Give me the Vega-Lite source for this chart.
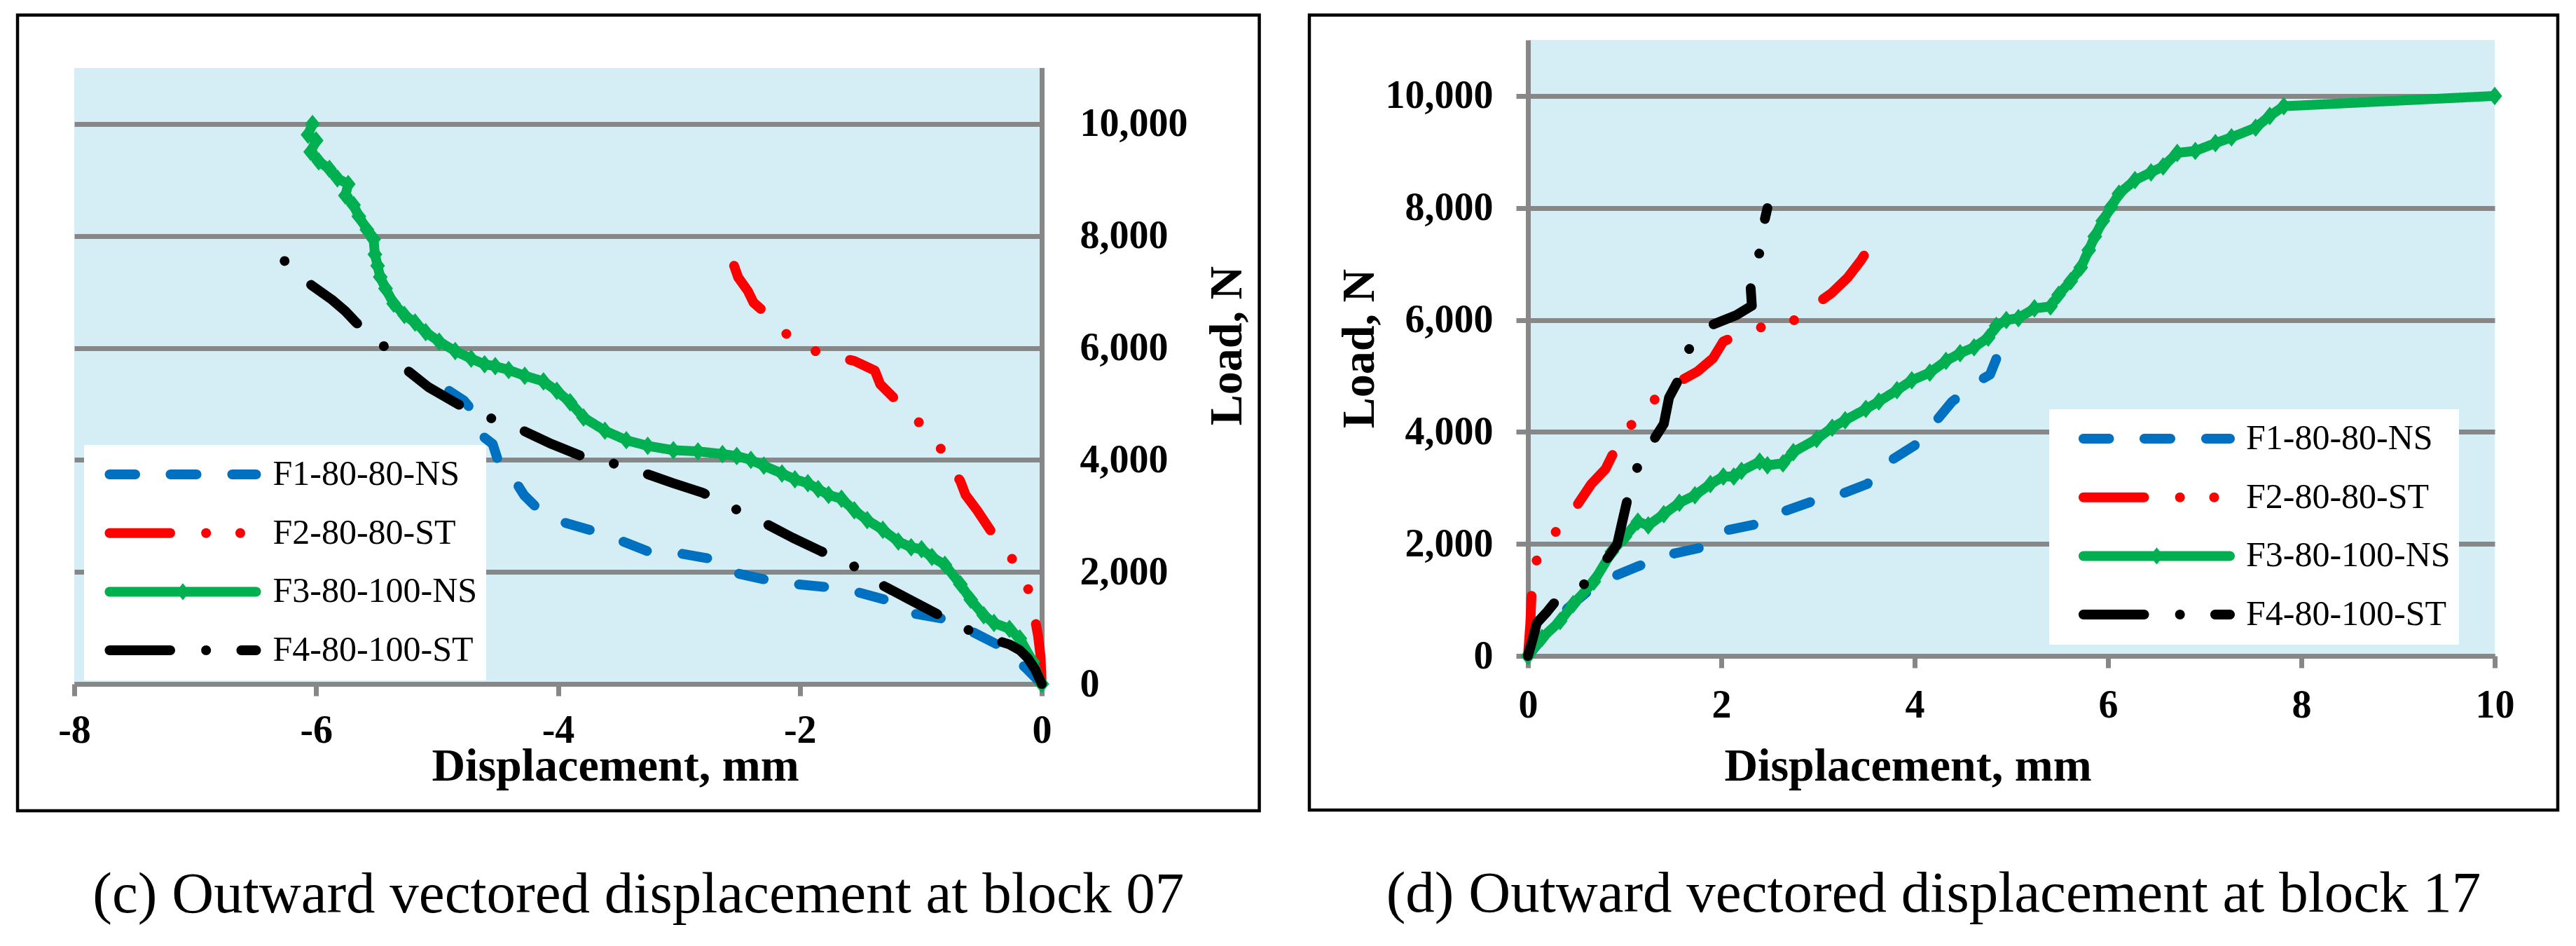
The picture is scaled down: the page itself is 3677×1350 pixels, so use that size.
{
  "$schema": "https://vega.github.io/schema/vega-lite/v6.json",
  "background": "white",
  "padding": {"left": 22, "top": 19, "right": 0, "bottom": 0},
  "spacing": 66,
  "config": {
    "view": {"fill": "#D5EEF5", "stroke": null},
    "axis": {
      "labelFont": "Liberation Serif", "labelFontWeight": "bold", "labelFontSize": 56, "labelColor": "black",
      "titleFont": "Liberation Serif", "titleFontWeight": "bold", "titleFontSize": 66, "titleColor": "black",
      "domainColor": "#878787", "domainWidth": 7, "tickColor": "#878787", "tickWidth": 7,
      "gridColor": "#878787", "gridWidth": 7, "gridOpacity": 1, "labelOverlap": false, "labelFlush": false
    },
    "title": {"font": "Liberation Serif", "fontSize": 83, "fontWeight": "normal", "color": "black"}
  },
  "datasets": {
    "c": [
      {"series": "F1-80-80-NS", "disp": 0, "load": 0},
      {"series": "F1-80-80-NS", "disp": -0.12, "load": 260},
      {"series": "F1-80-80-NS", "disp": -0.25, "load": 520},
      {"series": "F1-80-80-NS", "disp": -0.37, "load": 706},
      {"series": "F1-80-80-NS", "disp": -0.59, "load": 950},
      {"series": "F1-80-80-NS", "disp": -0.8, "load": 1157},
      {"series": "F1-80-80-NS", "disp": -1.07, "load": 1261},
      {"series": "F1-80-80-NS", "disp": -1.27, "load": 1490},
      {"series": "F1-80-80-NS", "disp": -1.53, "load": 1642},
      {"series": "F1-80-80-NS", "disp": -1.76, "load": 1726},
      {"series": "F1-80-80-NS", "disp": -2.03, "load": 1781},
      {"series": "F1-80-80-NS", "disp": -2.26, "load": 1851},
      {"series": "F1-80-80-NS", "disp": -2.52, "load": 1975},
      {"series": "F1-80-80-NS", "disp": -2.73, "load": 2232},
      {"series": "F1-80-80-NS", "disp": -2.99, "load": 2330},
      {"series": "F1-80-80-NS", "disp": -3.24, "load": 2354},
      {"series": "F1-80-80-NS", "disp": -3.48, "load": 2557},
      {"series": "F1-80-80-NS", "disp": -3.7, "load": 2727},
      {"series": "F1-80-80-NS", "disp": -3.97, "load": 2896},
      {"series": "F1-80-80-NS", "disp": -4.17, "load": 3133},
      {"series": "F1-80-80-NS", "disp": -4.28, "load": 3370},
      {"series": "F1-80-80-NS", "disp": -4.33, "load": 3540},
      {"series": "F1-80-80-NS", "disp": -4.49, "load": 3946},
      {"series": "F1-80-80-NS", "disp": -4.54, "load": 4285},
      {"series": "F1-80-80-NS", "disp": -4.62, "load": 4420},
      {"series": "F1-80-80-NS", "disp": -4.7, "load": 4861},
      {"series": "F1-80-80-NS", "disp": -4.78, "load": 5064},
      {"series": "F1-80-80-NS", "disp": -4.9, "load": 5233},
      {"series": "F2-80-80-ST", "disp": 0, "load": 0},
      {"series": "F2-80-80-ST", "disp": -0.01, "load": 500},
      {"series": "F2-80-80-ST", "disp": -0.03, "load": 850},
      {"series": "F2-80-80-ST", "disp": -0.05, "load": 1090},
      {"series": "F2-80-80-ST", "disp": -0.113, "load": 1698},
      {"series": "F2-80-80-ST", "disp": -0.245, "load": 2232},
      {"series": "F2-80-80-ST", "disp": -0.416, "load": 2717},
      {"series": "F2-80-80-ST", "disp": -0.534, "load": 3099},
      {"series": "F2-80-80-ST", "disp": -0.63, "load": 3376},
      {"series": "F2-80-80-ST", "disp": -0.673, "load": 3619},
      {"series": "F2-80-80-ST", "disp": -0.812, "load": 4139},
      {"series": "F2-80-80-ST", "disp": -0.994, "load": 4625},
      {"series": "F2-80-80-ST", "disp": -1.207, "load": 5075},
      {"series": "F2-80-80-ST", "disp": -1.336, "load": 5353},
      {"series": "F2-80-80-ST", "disp": -1.38, "load": 5595},
      {"series": "F2-80-80-ST", "disp": -1.55, "load": 5769},
      {"series": "F2-80-80-ST", "disp": -1.823, "load": 5894},
      {"series": "F2-80-80-ST", "disp": -2.06, "load": 6136},
      {"series": "F2-80-80-ST", "disp": -2.255, "load": 6566},
      {"series": "F2-80-80-ST", "disp": -2.383, "load": 6809},
      {"series": "F2-80-80-ST", "disp": -2.43, "load": 7017},
      {"series": "F2-80-80-ST", "disp": -2.51, "load": 7260},
      {"series": "F2-80-80-ST", "disp": -2.544, "load": 7468},
      {"series": "F3-80-100-NS", "disp": 0, "load": 0},
      {"series": "F3-80-100-NS", "disp": -0.074, "load": 394},
      {"series": "F3-80-100-NS", "disp": -0.181, "load": 810},
      {"series": "F3-80-100-NS", "disp": -0.267, "load": 984},
      {"series": "F3-80-100-NS", "disp": -0.395, "load": 1088},
      {"series": "F3-80-100-NS", "disp": -0.48, "load": 1226},
      {"series": "F3-80-100-NS", "disp": -0.587, "load": 1504},
      {"series": "F3-80-100-NS", "disp": -0.673, "load": 1781},
      {"series": "F3-80-100-NS", "disp": -0.801, "load": 2128},
      {"series": "F3-80-100-NS", "disp": -0.908, "load": 2267},
      {"series": "F3-80-100-NS", "disp": -0.994, "load": 2405},
      {"series": "F3-80-100-NS", "disp": -1.08, "load": 2440},
      {"series": "F3-80-100-NS", "disp": -1.186, "load": 2544},
      {"series": "F3-80-100-NS", "disp": -1.314, "load": 2752},
      {"series": "F3-80-100-NS", "disp": -1.443, "load": 2926},
      {"series": "F3-80-100-NS", "disp": -1.55, "load": 3099},
      {"series": "F3-80-100-NS", "disp": -1.656, "load": 3307},
      {"series": "F3-80-100-NS", "disp": -1.763, "load": 3376},
      {"series": "F3-80-100-NS", "disp": -1.849, "load": 3480},
      {"series": "F3-80-100-NS", "disp": -1.934, "load": 3584},
      {"series": "F3-80-100-NS", "disp": -2.041, "load": 3654},
      {"series": "F3-80-100-NS", "disp": -2.148, "load": 3758},
      {"series": "F3-80-100-NS", "disp": -2.298, "load": 3897},
      {"series": "F3-80-100-NS", "disp": -2.405, "load": 4000},
      {"series": "F3-80-100-NS", "disp": -2.522, "load": 4070},
      {"series": "F3-80-100-NS", "disp": -2.64, "load": 4105},
      {"series": "F3-80-100-NS", "disp": -2.843, "load": 4153},
      {"series": "F3-80-100-NS", "disp": -3.046, "load": 4174},
      {"series": "F3-80-100-NS", "disp": -3.258, "load": 4251},
      {"series": "F3-80-100-NS", "disp": -3.435, "load": 4353},
      {"series": "F3-80-100-NS", "disp": -3.612, "load": 4522},
      {"series": "F3-80-100-NS", "disp": -3.789, "load": 4759},
      {"series": "F3-80-100-NS", "disp": -3.9, "load": 5030},
      {"series": "F3-80-100-NS", "disp": -4.01, "load": 5233},
      {"series": "F3-80-100-NS", "disp": -4.12, "load": 5403},
      {"series": "F3-80-100-NS", "disp": -4.275, "load": 5504},
      {"series": "F3-80-100-NS", "disp": -4.408, "load": 5606},
      {"series": "F3-80-100-NS", "disp": -4.519, "load": 5674},
      {"series": "F3-80-100-NS", "disp": -4.607, "load": 5708},
      {"series": "F3-80-100-NS", "disp": -4.718, "load": 5809},
      {"series": "F3-80-100-NS", "disp": -4.85, "load": 5945},
      {"series": "F3-80-100-NS", "disp": -4.983, "load": 6114},
      {"series": "F3-80-100-NS", "disp": -5.094, "load": 6283},
      {"series": "F3-80-100-NS", "disp": -5.182, "load": 6453},
      {"series": "F3-80-100-NS", "disp": -5.27, "load": 6588},
      {"series": "F3-80-100-NS", "disp": -5.359, "load": 6792},
      {"series": "F3-80-100-NS", "disp": -5.426, "load": 7062},
      {"series": "F3-80-100-NS", "disp": -5.47, "load": 7266},
      {"series": "F3-80-100-NS", "disp": -5.492, "load": 7469},
      {"series": "F3-80-100-NS", "disp": -5.514, "load": 7672},
      {"series": "F3-80-100-NS", "disp": -5.525, "load": 7943},
      {"series": "F3-80-100-NS", "disp": -5.58, "load": 8113},
      {"series": "F3-80-100-NS", "disp": -5.647, "load": 8350},
      {"series": "F3-80-100-NS", "disp": -5.691, "load": 8553},
      {"series": "F3-80-100-NS", "disp": -5.758, "load": 8722},
      {"series": "F3-80-100-NS", "disp": -5.735, "load": 8926},
      {"series": "F3-80-100-NS", "disp": -5.824, "load": 9027},
      {"series": "F3-80-100-NS", "disp": -5.89, "load": 9197},
      {"series": "F3-80-100-NS", "disp": -5.979, "load": 9332},
      {"series": "F3-80-100-NS", "disp": -6.045, "load": 9502},
      {"series": "F3-80-100-NS", "disp": -6.0, "load": 9705},
      {"series": "F3-80-100-NS", "disp": -6.067, "load": 9806},
      {"series": "F3-80-100-NS", "disp": -6.03, "load": 10000},
      {"series": "F4-80-100-ST", "disp": 0, "load": 0},
      {"series": "F4-80-100-ST", "disp": -0.053, "load": 256},
      {"series": "F4-80-100-ST", "disp": -0.117, "load": 464},
      {"series": "F4-80-100-ST", "disp": -0.181, "load": 602},
      {"series": "F4-80-100-ST", "disp": -0.267, "load": 706},
      {"series": "F4-80-100-ST", "disp": -0.374, "load": 776},
      {"series": "F4-80-100-ST", "disp": -0.63, "load": 984},
      {"series": "F4-80-100-ST", "disp": -0.876, "load": 1261},
      {"series": "F4-80-100-ST", "disp": -1.122, "load": 1539},
      {"series": "F4-80-100-ST", "disp": -1.346, "load": 1795},
      {"series": "F4-80-100-ST", "disp": -1.571, "load": 2128},
      {"series": "F4-80-100-ST", "disp": -1.827, "load": 2371},
      {"series": "F4-80-100-ST", "disp": -2.063, "load": 2614},
      {"series": "F4-80-100-ST", "disp": -2.308, "load": 2891},
      {"series": "F4-80-100-ST", "disp": -2.544, "load": 3134},
      {"series": "F4-80-100-ST", "disp": -2.8, "load": 3411},
      {"series": "F4-80-100-ST", "disp": -3.046, "load": 3584},
      {"series": "F4-80-100-ST", "disp": -3.302, "load": 3777},
      {"series": "F4-80-100-ST", "disp": -3.557, "load": 3946},
      {"series": "F4-80-100-ST", "disp": -3.822, "load": 4082},
      {"series": "F4-80-100-ST", "disp": -4.054, "load": 4285},
      {"series": "F4-80-100-ST", "disp": -4.32, "load": 4556},
      {"series": "F4-80-100-ST", "disp": -4.572, "load": 4759},
      {"series": "F4-80-100-ST", "disp": -4.828, "load": 4996},
      {"series": "F4-80-100-ST", "disp": -5.072, "load": 5301},
      {"series": "F4-80-100-ST", "disp": -5.27, "load": 5640},
      {"series": "F4-80-100-ST", "disp": -5.452, "load": 6060},
      {"series": "F4-80-100-ST", "disp": -5.669, "load": 6453},
      {"series": "F4-80-100-ST", "disp": -5.758, "load": 6656},
      {"series": "F4-80-100-ST", "disp": -5.868, "load": 6859},
      {"series": "F4-80-100-ST", "disp": -6.067, "load": 7164},
      {"series": "F4-80-100-ST", "disp": -6.27, "load": 7571}
    ],
    "d": [
      {"series": "F1-80-80-NS", "disp": 0, "load": 0},
      {"series": "F1-80-80-NS", "disp": 0.2, "load": 420},
      {"series": "F1-80-80-NS", "disp": 0.413, "load": 856},
      {"series": "F1-80-80-NS", "disp": 0.6, "load": 1124},
      {"series": "F1-80-80-NS", "disp": 0.869, "load": 1406},
      {"series": "F1-80-80-NS", "disp": 1.15, "load": 1607},
      {"series": "F1-80-80-NS", "disp": 1.459, "load": 1808},
      {"series": "F1-80-80-NS", "disp": 1.78, "load": 1929},
      {"series": "F1-80-80-NS", "disp": 2.021, "load": 2231},
      {"series": "F1-80-80-NS", "disp": 2.343, "load": 2345},
      {"series": "F1-80-80-NS", "disp": 2.624, "load": 2566},
      {"series": "F1-80-80-NS", "disp": 2.919, "load": 2747},
      {"series": "F1-80-80-NS", "disp": 3.227, "load": 2881},
      {"series": "F1-80-80-NS", "disp": 3.509, "load": 3069},
      {"series": "F1-80-80-NS", "disp": 3.737, "load": 3471},
      {"series": "F1-80-80-NS", "disp": 4.0, "load": 3760},
      {"series": "F1-80-80-NS", "disp": 4.22, "load": 4192},
      {"series": "F1-80-80-NS", "disp": 4.386, "load": 4539},
      {"series": "F1-80-80-NS", "disp": 4.677, "load": 4921},
      {"series": "F1-80-80-NS", "disp": 4.78, "load": 5025},
      {"series": "F1-80-80-NS", "disp": 4.844, "load": 5303},
      {"series": "F2-80-80-ST", "disp": 0, "load": 0},
      {"series": "F2-80-80-ST", "disp": 0.025, "load": 588},
      {"series": "F2-80-80-ST", "disp": 0.038, "load": 1124},
      {"series": "F2-80-80-ST", "disp": 0.086, "load": 1694},
      {"series": "F2-80-80-ST", "disp": 0.279, "load": 2197},
      {"series": "F2-80-80-ST", "disp": 0.499, "load": 2667},
      {"series": "F2-80-80-ST", "disp": 0.655, "load": 3069},
      {"series": "F2-80-80-ST", "disp": 0.802, "load": 3337},
      {"series": "F2-80-80-ST", "disp": 0.869, "load": 3572},
      {"series": "F2-80-80-ST", "disp": 1.043, "load": 4075},
      {"series": "F2-80-80-ST", "disp": 1.284, "load": 4544},
      {"series": "F2-80-80-ST", "disp": 1.579, "load": 4913},
      {"series": "F2-80-80-ST", "disp": 1.753, "load": 5080},
      {"series": "F2-80-80-ST", "disp": 1.914, "load": 5315},
      {"series": "F2-80-80-ST", "disp": 2.021, "load": 5617},
      {"series": "F2-80-80-ST", "disp": 2.356, "load": 5851},
      {"series": "F2-80-80-ST", "disp": 2.718, "load": 5952},
      {"series": "F2-80-80-ST", "disp": 2.986, "load": 6287},
      {"series": "F2-80-80-ST", "disp": 3.147, "load": 6488},
      {"series": "F2-80-80-ST", "disp": 3.308, "load": 6757},
      {"series": "F2-80-80-ST", "disp": 3.442, "load": 7058},
      {"series": "F2-80-80-ST", "disp": 3.624, "load": 7548},
      {"series": "F3-80-100-NS", "disp": 0, "load": 0},
      {"series": "F3-80-100-NS", "disp": 0.145, "load": 320},
      {"series": "F3-80-100-NS", "disp": 0.333, "load": 622},
      {"series": "F3-80-100-NS", "disp": 0.467, "load": 923},
      {"series": "F3-80-100-NS", "disp": 0.681, "load": 1326},
      {"series": "F3-80-100-NS", "disp": 0.869, "load": 1862},
      {"series": "F3-80-100-NS", "disp": 1.003, "load": 2130},
      {"series": "F3-80-100-NS", "disp": 1.137, "load": 2398},
      {"series": "F3-80-100-NS", "disp": 1.244, "load": 2331},
      {"series": "F3-80-100-NS", "disp": 1.405, "load": 2532},
      {"series": "F3-80-100-NS", "disp": 1.566, "load": 2734},
      {"series": "F3-80-100-NS", "disp": 1.727, "load": 2868},
      {"series": "F3-80-100-NS", "disp": 1.887, "load": 3069},
      {"series": "F3-80-100-NS", "disp": 2.021, "load": 3203},
      {"series": "F3-80-100-NS", "disp": 2.129, "load": 3203},
      {"series": "F3-80-100-NS", "disp": 2.209, "load": 3304},
      {"series": "F3-80-100-NS", "disp": 2.397, "load": 3471},
      {"series": "F3-80-100-NS", "disp": 2.477, "load": 3404},
      {"series": "F3-80-100-NS", "disp": 2.638, "load": 3438},
      {"series": "F3-80-100-NS", "disp": 2.745, "load": 3639},
      {"series": "F3-80-100-NS", "disp": 2.986, "load": 3874},
      {"series": "F3-80-100-NS", "disp": 3.147, "load": 4075},
      {"series": "F3-80-100-NS", "disp": 3.281, "load": 4209},
      {"series": "F3-80-100-NS", "disp": 3.495, "load": 4410},
      {"series": "F3-80-100-NS", "disp": 3.629, "load": 4544},
      {"series": "F3-80-100-NS", "disp": 3.817, "load": 4745},
      {"series": "F3-80-100-NS", "disp": 3.97, "load": 4921},
      {"series": "F3-80-100-NS", "disp": 4.157, "load": 5060},
      {"series": "F3-80-100-NS", "disp": 4.324, "load": 5268},
      {"series": "F3-80-100-NS", "disp": 4.47, "load": 5407},
      {"series": "F3-80-100-NS", "disp": 4.615, "load": 5511},
      {"series": "F3-80-100-NS", "disp": 4.761, "load": 5685},
      {"series": "F3-80-100-NS", "disp": 4.844, "load": 5893},
      {"series": "F3-80-100-NS", "disp": 4.948, "load": 5997},
      {"series": "F3-80-100-NS", "disp": 5.073, "load": 6032},
      {"series": "F3-80-100-NS", "disp": 5.239, "load": 6206},
      {"series": "F3-80-100-NS", "disp": 5.405, "load": 6240},
      {"series": "F3-80-100-NS", "disp": 5.489, "load": 6449},
      {"series": "F3-80-100-NS", "disp": 5.614, "load": 6692},
      {"series": "F3-80-100-NS", "disp": 5.718, "load": 6935},
      {"series": "F3-80-100-NS", "disp": 5.801, "load": 7247},
      {"series": "F3-80-100-NS", "disp": 5.863, "load": 7490},
      {"series": "F3-80-100-NS", "disp": 5.946, "load": 7768},
      {"series": "F3-80-100-NS", "disp": 6.03, "load": 8011},
      {"series": "F3-80-100-NS", "disp": 6.113, "load": 8254},
      {"series": "F3-80-100-NS", "disp": 6.279, "load": 8497},
      {"series": "F3-80-100-NS", "disp": 6.445, "load": 8636},
      {"series": "F3-80-100-NS", "disp": 6.57, "load": 8740},
      {"series": "F3-80-100-NS", "disp": 6.716, "load": 8983},
      {"series": "F3-80-100-NS", "disp": 6.903, "load": 9018},
      {"series": "F3-80-100-NS", "disp": 7.111, "load": 9157},
      {"series": "F3-80-100-NS", "disp": 7.277, "load": 9261},
      {"series": "F3-80-100-NS", "disp": 7.527, "load": 9434},
      {"series": "F3-80-100-NS", "disp": 7.673, "load": 9643},
      {"series": "F3-80-100-NS", "disp": 7.818, "load": 9816},
      {"series": "F3-80-100-NS", "disp": 10, "load": 10000},
      {"series": "F4-80-100-ST", "disp": 0, "load": 0},
      {"series": "F4-80-100-ST", "disp": 0.052, "load": 320},
      {"series": "F4-80-100-ST", "disp": 0.092, "load": 588},
      {"series": "F4-80-100-ST", "disp": 0.199, "load": 789},
      {"series": "F4-80-100-ST", "disp": 0.293, "load": 990},
      {"series": "F4-80-100-ST", "disp": 0.593, "load": 1292},
      {"series": "F4-80-100-ST", "disp": 0.829, "load": 1761},
      {"series": "F4-80-100-ST", "disp": 0.923, "load": 1996},
      {"series": "F4-80-100-ST", "disp": 0.976, "load": 2398},
      {"series": "F4-80-100-ST", "disp": 1.03, "load": 2801},
      {"series": "F4-80-100-ST", "disp": 1.132, "load": 3370},
      {"series": "F4-80-100-ST", "disp": 1.311, "load": 3887},
      {"series": "F4-80-100-ST", "disp": 1.405, "load": 4142},
      {"series": "F4-80-100-ST", "disp": 1.459, "load": 4611},
      {"series": "F4-80-100-ST", "disp": 1.552, "load": 4913},
      {"series": "F4-80-100-ST", "disp": 1.668, "load": 5483},
      {"series": "F4-80-100-ST", "disp": 1.887, "load": 5898},
      {"series": "F4-80-100-ST", "disp": 2.155, "load": 6086},
      {"series": "F4-80-100-ST", "disp": 2.316, "load": 6254},
      {"series": "F4-80-100-ST", "disp": 2.303, "load": 6589},
      {"series": "F4-80-100-ST", "disp": 2.391, "load": 7172},
      {"series": "F4-80-100-ST", "disp": 2.45, "load": 7796},
      {"series": "F4-80-100-ST", "disp": 2.477, "load": 7997}
    ]
  },
  "hconcat": [
    {
      "width": 1381,
      "height": 919,
      "title": {"text": "(c) Outward vectored displacement at block 07", "orient": "bottom", "anchor": "middle", "frame": "bounds", "baseline": "alphabetic", "offset": 143},
      "data": {"name": "c"},
      "transform": [{"window": [{"op": "row_number", "as": "i"}]}],
      "layer": [
        {
          "transform": [{"filter": "datum.series !== 'F4-80-100-ST'"}],
          "mark": {"type": "line", "strokeWidth": 14, "strokeCap": "round", "strokeJoin": "round"},
          "encoding": {
            "x": {"field": "disp", "type": "quantitative", "scale": {"domain": [-8, 0], "nice": false},
              "axis": {"orient": "bottom", "values": [-8, -6, -4, -2, 0], "grid": false, "tickSize": 17, "labelPadding": 66, "labelBaseline": "alphabetic", "labelExpr": "datum.value + ''", "title": "Displacement, mm", "titleX": 772, "titleY": 137, "titleAlign": "center", "titleBaseline": "alphabetic"}},
            "y": {"field": "load", "type": "quantitative", "scale": {"domain": [0, 11500], "nice": false},
              "axis": {"orient": "right", "values": [0, 2000, 4000, 6000, 8000, 10000], "format": ",d", "grid": true, "ticks": false, "labelPadding": 54, "labelBaseline": "middle", "title": "Load, N", "titleAngle": 270, "titleX": 284, "titleY": 436, "titleAlign": "center", "titleBaseline": "alphabetic"}},
            "color": {"field": "series", "type": "nominal", "legend": null,
              "scale": {"domain": ["F1-80-80-NS", "F2-80-80-ST", "F3-80-100-NS", "F4-80-100-ST"], "range": ["#0070C0", "#FF0000", "#00B050", "#000000"]}},
            "strokeDash": {"field": "series", "type": "nominal", "legend": null,
              "scale": {"domain": ["F1-80-80-NS", "F2-80-80-ST", "F3-80-100-NS", "F4-80-100-ST"], "range": [[36, 51], [86, 51, 0.01, 49, 0.01, 51], [1, 0], [86, 51, 0.01, 50]]}},
            "order": {"field": "i", "type": "quantitative"}
          }
        },
        {
          "transform": [{"filter": "datum.series === 'F3-80-100-NS'"}],
          "mark": {"type": "point", "filled": true, "shape": "M0,-1L0.8,0L0,1L-0.8,0Z", "size": 700, "color": "#00B050", "opacity": 1, "strokeWidth": 0},
          "encoding": {
            "x": {"field": "disp", "type": "quantitative", "scale": {"domain": [-8, 0], "nice": false}},
            "y": {"field": "load", "type": "quantitative", "scale": {"domain": [0, 11500], "nice": false}}
          }
        },
        {
          "transform": [{"filter": "datum.series === 'F4-80-100-ST'"}],
          "mark": {"type": "line", "strokeWidth": 14, "strokeCap": "round", "strokeJoin": "round"},
          "encoding": {
            "x": {"field": "disp", "type": "quantitative", "scale": {"domain": [-8, 0], "nice": false}},
            "y": {"field": "load", "type": "quantitative", "scale": {"domain": [0, 11500], "nice": false}},
            "color": {"field": "series", "type": "nominal", "legend": null},
            "strokeDash": {"field": "series", "type": "nominal", "legend": null},
            "order": {"field": "i", "type": "quantitative"}
          }
        },
        {
          "data": {"values": [{}]},
          "mark": {"type": "rect", "color": "white", "clip": false},
          "encoding": {
            "x": {"datum": -8.2, "type": "quantitative", "scale": {"domain": [-8, 0], "nice": false}},
            "x2": {"datum": 0.06},
            "y": {"datum": 11000, "type": "quantitative", "scale": {"domain": [0, 11500], "nice": false}},
            "y2": {"datum": 11560}
          }
        },
        {
          "transform": [{"filter": "false"}],
          "mark": {"type": "point", "filled": true, "strokeWidth": 0, "size": 3600},
          "encoding": {
            "x": {"field": "disp", "type": "quantitative", "scale": {"domain": [-8, 0], "nice": false}},
            "y": {"field": "load", "type": "quantitative", "scale": {"domain": [0, 11500], "nice": false}},
            "fill": {"field": "series", "type": "nominal",
              "scale": {"domain": ["F1-80-80-NS\u00a0", "F2-80-80-ST\u00a0", "F3-80-100-NS\u00a0", "F4-80-100-ST\u00a0"], "range": ["#0070C0", "#FF0000", "#00B050", "#000000"]},
              "legend": {"orient": "none", "legendX": 14, "legendY": 578, "title": null, "fillColor": "white", "padding": 12, "rowPadding": 23.7, "labelFont": "Liberation Serif", "labelFontSize": 50, "labelFontWeight": "normal", "labelColor": "black", "labelOffset": 197.5, "labelLimit": 2000, "symbolStrokeWidth": 0, "symbolSize": 3600, "symbolOpacity": 1}},
            "shape": {"field": "series", "type": "nominal",
              "scale": {"domain": ["F1-80-80-NS\u00a0", "F2-80-80-ST\u00a0", "F3-80-100-NS\u00a0", "F4-80-100-ST\u00a0"], "range": [
                "M-1,-1M-1,1M-0.184,-0.233H1.033A0.233,0.233,0,0,1,1.033,0.233H-0.184A0.233,0.233,0,0,1,-0.184,-0.233ZM2.716,-0.233H3.95A0.233,0.233,0,0,1,3.95,0.233H2.716A0.233,0.233,0,0,1,2.716,-0.233ZM5.65,-0.233H6.783A0.233,0.233,0,0,1,6.783,0.233H5.65A0.233,0.233,0,0,1,5.65,-0.233Z",
                "M-1,-1M-1,1M-0.184,-0.233H2.7A0.233,0.233,0,0,1,2.7,0.233H-0.184A0.233,0.233,0,0,1,-0.184,-0.233ZM4.173,0A0.233,0.233,0,1,1,4.639,0A0.233,0.233,0,1,1,4.173,0ZM5.8,0A0.233,0.233,0,1,1,6.266,0A0.233,0.233,0,1,1,5.8,0Z",
                "M-1,-1M-1,1M-0.184,-0.233H6.783A0.233,0.233,0,0,1,6.783,0.233H-0.184A0.233,0.233,0,0,1,-0.184,-0.233ZM3.3,-0.407L3.625,0L3.3,0.407L2.975,0Z",
                "M-1,-1M-1,1M-0.184,-0.233H2.7A0.233,0.233,0,0,1,2.7,0.233H-0.184A0.233,0.233,0,0,1,-0.184,-0.233ZM4.173,0A0.233,0.233,0,1,1,4.639,0A0.233,0.233,0,1,1,4.173,0ZM6.083,-0.233H6.783A0.233,0.233,0,0,1,6.783,0.233H6.083A0.233,0.233,0,0,1,6.083,-0.233Z"
              ]},
              "legend": {"orient": "none", "legendX": 14, "legendY": 578, "title": null, "fillColor": "white", "padding": 12, "rowPadding": 23.7, "labelFont": "Liberation Serif", "labelFontSize": 50, "labelFontWeight": "normal", "labelColor": "black", "labelOffset": 197.5, "labelLimit": 2000, "symbolStrokeWidth": 0, "symbolSize": 3600, "symbolOpacity": 1}}
          }
        },
        {
          "data": {"values": [{}]},
          "mark": {"type": "rect", "filled": false, "stroke": "black", "strokeWidth": 4.5, "clip": false},
          "encoding": {
            "x": {"datum": -8.469, "type": "quantitative", "scale": {"domain": [-8, 0], "nice": false}},
            "x2": {"datum": 1.799},
            "y": {"datum": 11945, "type": "quantitative", "scale": {"domain": [0, 11500], "nice": false}},
            "y2": {"datum": -2265}
          }
        }
      ]
    },
    {
      "width": 1380,
      "height": 879,
      "title": {"text": "(d) Outward vectored displacement at block 17", "orient": "bottom", "anchor": "middle", "frame": "bounds", "baseline": "alphabetic", "offset": 143},
      "data": {"name": "d"},
      "transform": [{"window": [{"op": "row_number", "as": "i"}]}],
      "layer": [
        {
          "transform": [{"filter": "datum.series !== 'F4-80-100-ST'"}],
          "mark": {"type": "line", "strokeWidth": 14, "strokeCap": "round", "strokeJoin": "round"},
          "encoding": {
            "x": {"field": "disp", "type": "quantitative", "scale": {"domain": [0, 10], "nice": false},
              "axis": {"orient": "bottom", "values": [0, 2, 4, 6, 8, 10], "format": "d", "grid": false, "tickSize": 17, "labelPadding": 70, "labelBaseline": "alphabetic", "title": "Displacement, mm", "titleX": 542, "titleY": 177, "titleAlign": "center", "titleBaseline": "alphabetic"}},
            "y": {"field": "load", "type": "quantitative", "scale": {"domain": [0, 11000], "nice": false},
              "axis": {"orient": "left", "values": [0, 2000, 4000, 6000, 8000, 10000], "format": ",d", "grid": true, "tickSize": 17, "labelPadding": 33, "labelBaseline": "middle", "title": "Load, N", "titleAngle": 270, "titleX": -221, "titleY": 440, "titleAlign": "center", "titleBaseline": "alphabetic"}},
            "color": {"field": "series", "type": "nominal", "legend": null,
              "scale": {"domain": ["F1-80-80-NS", "F2-80-80-ST", "F3-80-100-NS", "F4-80-100-ST"], "range": ["#0070C0", "#FF0000", "#00B050", "#000000"]}},
            "strokeDash": {"field": "series", "type": "nominal", "legend": null,
              "scale": {"domain": ["F1-80-80-NS", "F2-80-80-ST", "F3-80-100-NS", "F4-80-100-ST"], "range": [[36, 51], [86, 51, 0.01, 49, 0.01, 51], [1, 0], [86, 51, 0.01, 50]]}},
            "order": {"field": "i", "type": "quantitative"}
          }
        },
        {
          "transform": [{"filter": "datum.series === 'F3-80-100-NS'"}],
          "mark": {"type": "point", "filled": true, "shape": "M0,-1L0.8,0L0,1L-0.8,0Z", "size": 700, "color": "#00B050", "opacity": 1, "strokeWidth": 0},
          "encoding": {
            "x": {"field": "disp", "type": "quantitative", "scale": {"domain": [0, 10], "nice": false}},
            "y": {"field": "load", "type": "quantitative", "scale": {"domain": [0, 11000], "nice": false}}
          }
        },
        {
          "transform": [{"filter": "datum.series === 'F4-80-100-ST'"}],
          "mark": {"type": "line", "strokeWidth": 14, "strokeCap": "round", "strokeJoin": "round"},
          "encoding": {
            "x": {"field": "disp", "type": "quantitative", "scale": {"domain": [0, 10], "nice": false}},
            "y": {"field": "load", "type": "quantitative", "scale": {"domain": [0, 11000], "nice": false}},
            "color": {"field": "series", "type": "nominal", "legend": null},
            "strokeDash": {"field": "series", "type": "nominal", "legend": null},
            "order": {"field": "i", "type": "quantitative"}
          }
        },
        {
          "transform": [{"filter": "false"}],
          "mark": {"type": "point", "filled": true, "strokeWidth": 0, "size": 3600},
          "encoding": {
            "x": {"field": "disp", "type": "quantitative", "scale": {"domain": [0, 10], "nice": false}},
            "y": {"field": "load", "type": "quantitative", "scale": {"domain": [0, 11000], "nice": false}},
            "fill": {"field": "series", "type": "nominal",
              "scale": {"domain": ["F1-80-80-NS\u00a0\u00a0", "F2-80-80-ST\u00a0\u00a0", "F3-80-100-NS\u00a0\u00a0", "F4-80-100-ST\u00a0\u00a0"], "range": ["#0070C0", "#FF0000", "#00B050", "#000000"]},
              "legend": {"orient": "none", "legendX": 744, "legendY": 527, "title": null, "fillColor": "white", "padding": 12, "rowPadding": 23.7, "labelFont": "Liberation Serif", "labelFontSize": 50, "labelFontWeight": "normal", "labelColor": "black", "labelOffset": 209, "labelLimit": 2000, "symbolStrokeWidth": 0, "symbolSize": 3600, "symbolOpacity": 1}},
            "shape": {"field": "series", "type": "nominal",
              "scale": {"domain": ["F1-80-80-NS\u00a0\u00a0", "F2-80-80-ST\u00a0\u00a0", "F3-80-100-NS\u00a0\u00a0", "F4-80-100-ST\u00a0\u00a0"], "range": [
                "M-1,-1M-1,1M0.233,-0.233H1.45A0.233,0.233,0,0,1,1.45,0.233H0.233A0.233,0.233,0,0,1,0.233,-0.233ZM3.133,-0.233H4.367A0.233,0.233,0,0,1,4.367,0.233H3.133A0.233,0.233,0,0,1,3.133,-0.233ZM6.067,-0.233H7.2A0.233,0.233,0,0,1,7.2,0.233H6.067A0.233,0.233,0,0,1,6.067,-0.233Z",
                "M-1,-1M-1,1M0.233,-0.233H3.117A0.233,0.233,0,0,1,3.117,0.233H0.233A0.233,0.233,0,0,1,0.233,-0.233ZM4.59,0A0.233,0.233,0,1,1,5.056,0A0.233,0.233,0,1,1,4.59,0ZM6.217,0A0.233,0.233,0,1,1,6.683,0A0.233,0.233,0,1,1,6.217,0Z",
                "M-1,-1M-1,1M0.233,-0.233H7.2A0.233,0.233,0,0,1,7.2,0.233H0.233A0.233,0.233,0,0,1,0.233,-0.233ZM3.717,-0.407L4.042,0L3.717,0.407L3.392,0Z",
                "M-1,-1M-1,1M0.233,-0.233H3.117A0.233,0.233,0,0,1,3.117,0.233H0.233A0.233,0.233,0,0,1,0.233,-0.233ZM4.59,0A0.233,0.233,0,1,1,5.056,0A0.233,0.233,0,1,1,4.59,0ZM6.5,-0.233H7.2A0.233,0.233,0,0,1,7.2,0.233H6.5A0.233,0.233,0,0,1,6.5,-0.233Z"
              ]},
              "legend": {"orient": "none", "legendX": 744, "legendY": 527, "title": null, "fillColor": "white", "padding": 12, "rowPadding": 23.7, "labelFont": "Liberation Serif", "labelFontSize": 50, "labelFontWeight": "normal", "labelColor": "black", "labelOffset": 209, "labelLimit": 2000, "symbolStrokeWidth": 0, "symbolSize": 3600, "symbolOpacity": 1}}
          }
        },
        {
          "data": {"values": [{}]},
          "mark": {"type": "rect", "filled": false, "stroke": "black", "strokeWidth": 4.5, "clip": false},
          "encoding": {
            "x": {"datum": -2.261, "type": "quantitative", "scale": {"domain": [0, 10], "nice": false}},
            "x2": {"datum": 10.652},
            "y": {"datum": 11444, "type": "quantitative", "scale": {"domain": [0, 11000], "nice": false}},
            "y2": {"datum": -2753}
          }
        }
      ]
    }
  ],
  "resolve": {
    "scale": {"x": "independent", "y": "independent", "color": "independent", "fill": "independent", "shape": "independent", "strokeDash": "independent"},
    "legend": {"fill": "independent", "shape": "independent"}
  }
}
